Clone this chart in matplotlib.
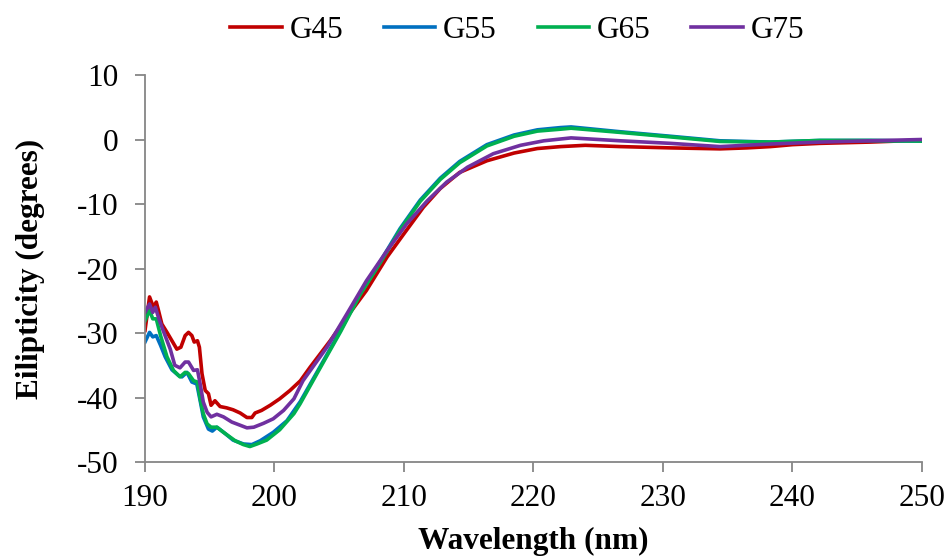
import matplotlib
matplotlib.use("Agg")
import matplotlib.pyplot as plt

plt.rcParams['font.family'] = ['Liberation Serif', 'DejaVu Serif']
plt.rcParams['axes.unicode_minus'] = False

# G45
wl_g45 = [190.0, 190.35, 190.65, 190.87, 191.04, 191.3, 191.7, 192.08, 192.46, 192.77,
          193.1, 193.36, 193.62, 193.8, 194.05, 194.2, 194.4, 194.65, 194.9, 195.1,
          195.4, 195.8, 196.3, 196.8, 197.35, 197.87, 198.25, 198.5, 199.0, 199.67,
          200.4, 201.2, 202.0, 202.75, 204.3, 205.6, 207.1, 208.7, 210.0, 211.5,
          212.8, 214.3, 216.4, 218.5, 220.3, 222.1, 224.0, 226.7, 230.6, 234.4,
          236.5, 238.3, 240.0, 242.1, 246.0, 250.0]
g45 = [-29.6, -24.4, -26.0, -25.2, -26.5, -28.6, -29.9, -31.2, -32.5, -32.2,
       -30.4, -29.9, -30.4, -31.4, -31.2, -32.2, -36.3, -38.9, -39.4, -41.2,
       -40.5, -41.4, -41.6, -41.9, -42.4, -43.1, -43.1, -42.4, -42.0, -41.2,
       -40.2, -38.9, -37.4, -35.3, -31.2, -27.5, -23.4, -18.2, -14.6, -10.5,
       -7.6, -5.1, -3.3, -2.1, -1.4, -1.1, -0.9, -1.1, -1.3, -1.45,
       -1.3, -1.1, -0.8, -0.6, -0.4, -0.1]

# G55
wl_g55 = [190.0, 190.35, 190.6, 190.87, 191.2, 191.56, 192.08, 192.6, 192.85, 193.24,
          193.62, 194.0, 194.26, 194.5, 194.9, 195.2, 195.55, 196.2, 196.8, 197.6,
          198.25, 198.9, 199.9, 200.96, 202.0, 203.5, 205.1, 206.6, 208.2, 209.7,
          211.25, 212.8, 214.3, 216.4, 218.5, 220.3, 222.1, 222.9, 226.7, 230.6,
          234.4, 238.3, 242.1, 246.0, 250.0]
g55 = [-31.4, -29.9, -30.6, -30.4, -31.9, -33.7, -35.7, -36.6, -36.8, -36.1,
       -37.6, -37.9, -40.5, -43.0, -44.9, -45.2, -44.6, -45.6, -46.6, -47.2,
       -47.3, -46.7, -45.4, -43.6, -40.6, -35.3, -29.6, -23.9, -18.8, -13.8,
       -9.4, -6.0, -3.4, -0.8, 0.7, 1.5, 1.85, 1.95, 1.2, 0.5,
       -0.2, -0.4, -0.15, -0.15, -0.25]

# G65
wl_g65 = [190.0, 190.35, 190.6, 190.87, 191.2, 191.7, 192.2, 192.7, 193.1, 193.36,
          193.75, 194.05, 194.26, 194.5, 194.8, 195.1, 195.55, 196.2, 196.96, 197.6,
          198.1, 198.65, 199.4, 200.4, 201.5, 201.97, 203.5, 205.1, 206.6, 208.2,
          209.7, 211.25, 212.8, 214.3, 216.4, 218.5, 220.3, 222.1, 222.9, 226.7,
          230.6, 234.4, 238.3, 242.1, 246.0, 250.0]
g65 = [-28.1, -26.5, -27.8, -27.8, -30.4, -33.7, -35.8, -36.8, -36.1, -36.3,
       -37.4, -37.6, -40.2, -42.5, -44.1, -44.6, -44.6, -45.6, -46.7, -47.3,
       -47.6, -47.2, -46.6, -45.0, -42.5, -41.0, -35.5, -29.8, -24.1, -19.0,
       -14.0, -9.6, -6.2, -3.6, -1.0, 0.5, 1.3, 1.6, 1.75, 1.1,
       0.4, -0.3, -0.4, -0.15, -0.15, -0.25]

# G75
wl_g75 = [190.0, 190.35, 190.6, 190.8, 191.04, 191.4, 191.95, 192.3, 192.7, 193.1,
          193.36, 193.75, 194.05, 194.26, 194.5, 194.8, 195.1, 195.55, 196.06, 196.7,
          197.35, 197.87, 198.4, 199.15, 199.9, 200.7, 201.5, 202.2, 204.05, 205.6,
          207.1, 208.7, 210.2, 211.8, 213.3, 214.9, 216.9, 219.0, 220.8, 222.9,
          226.7, 230.6, 234.4, 238.3, 242.1, 246.0, 250.0]
g75 = [-26.8, -25.5, -26.8, -26.0, -27.6, -29.6, -32.5, -35.0, -35.4, -34.5,
       -34.5, -35.8, -35.7, -37.9, -40.7, -42.3, -43.0, -42.6, -43.0, -43.8,
       -44.3, -44.7, -44.6, -44.0, -43.3, -42.0, -40.2, -37.4, -32.2, -27.0,
       -21.9, -17.2, -13.1, -9.5, -6.6, -4.3, -2.2, -0.9, -0.2, 0.25,
       -0.2, -0.6, -1.1, -0.7, -0.4, -0.2, 0.0]

x_ticks = [190, 200, 210, 220, 230, 240, 250]
y_ticks = [-50, -40, -30, -20, -10, 0, 10]

grey = "#868686"
fs = 22.5
lw = 2.6

fig = plt.figure(figsize=(9.49, 5.58), dpi=100)
ax = fig.add_axes([0.1528, 0.172, 0.8187, 0.6936])

ax.plot(wl_g45, g45, color="#C00000", lw=lw, label="G45")
ax.plot(wl_g55, g55, color="#0070C0", lw=lw, label="G55")
ax.plot(wl_g65, g65, color="#00B050", lw=lw, label="G65")
ax.plot(wl_g75, g75, color="#7030A0", lw=lw, label="G75")

ax.set_xlim(190, 250)
ax.set_ylim(-50, 10)
ax.set_xticks(x_ticks)
ax.set_yticks(y_ticks)

for side in ["top", "right"]:
    ax.spines[side].set_visible(False)
for side in ["left", "bottom"]:
    ax.spines[side].set_color(grey)
    ax.spines[side].set_linewidth(1.3)
ax.tick_params(direction="out", length=7, width=1.3, color=grey,
               labelsize=fs)
ax.tick_params(axis="x", pad=9)
ax.tick_params(axis="y", pad=12)

ax.set_xlabel("Wavelength (nm)", fontsize=fs, fontweight="bold", labelpad=10)
ax.set_ylabel("Eilipticity (degrees)", fontsize=fs, fontweight="bold", labelpad=23)

ax.legend(loc="center", bbox_to_anchor=(0.479, 1.116), ncol=4,
          frameon=False, fontsize=fs, handlelength=1.65, handletextpad=0.25,
          columnspacing=1.3, borderpad=0, borderaxespad=0)

fig.savefig("out.png", dpi=100)
